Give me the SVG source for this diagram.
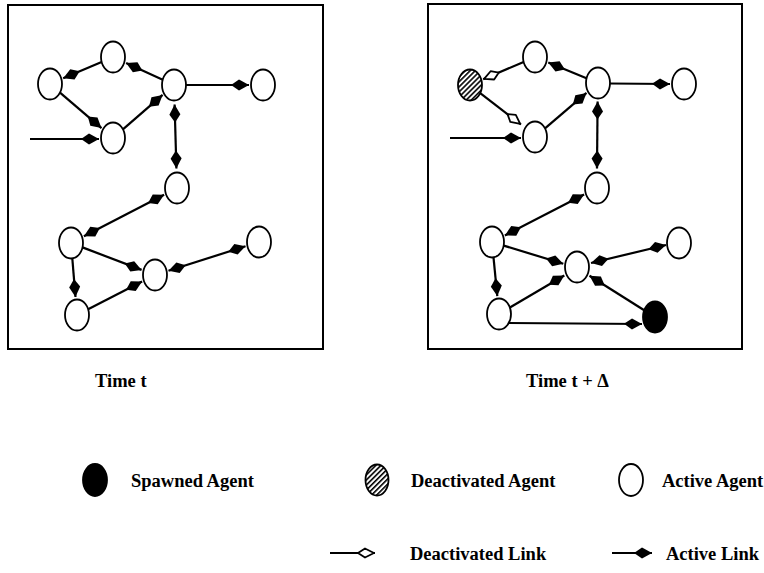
<svg xmlns="http://www.w3.org/2000/svg" width="764" height="573" viewBox="0 0 764 573">
<style>
.n{fill:#fff;stroke:#000;stroke-width:1.8}
.s{fill:#000;stroke:#000;stroke-width:1.8}
.h{fill:url(#hatch);stroke:#000;stroke-width:1.8}
.e{stroke:#000;stroke-width:2.2;fill:none}
.a{marker-end:url(#fh)}
.d{marker-start:url(#fh);marker-end:url(#fh)}
.o{marker-end:url(#oh)}
.box{fill:none;stroke:#000;stroke-width:2}
text{font-family:"Liberation Serif","Times New Roman",serif;font-weight:bold;font-size:18.5px;fill:#000}
</style>
<defs>
<marker id="fh" markerUnits="userSpaceOnUse" markerWidth="20" markerHeight="14" refX="18" refY="7" orient="auto-start-reverse" overflow="visible"><path d="M18,7 L8,1.5 L0,7 L8,12.5 Z" fill="#000"/></marker>
<marker id="oh" markerUnits="userSpaceOnUse" markerWidth="20" markerHeight="14" refX="18" refY="7" orient="auto-start-reverse" overflow="visible"><path d="M17,7 L8,2.5 L1,7 L8,11.5 Z" fill="#fff" stroke="#000" stroke-width="1.8" stroke-linejoin="round"/></marker>
<pattern id="hatch" width="3.6" height="3.6" patternUnits="userSpaceOnUse" patternTransform="rotate(45)"><rect width="3.6" height="3.6" fill="#fff"/><line x1="0.8" y1="0" x2="0.8" y2="3.6" stroke="#000" stroke-width="1.6"/></pattern>
</defs>
<rect id="frame-t" class="box" x="8" y="5" width="315" height="344"/>
<rect id="frame-t-delta" class="box" x="428" y="4" width="314" height="345"/>
<g id="connectors">
<path class="e a" d="M101.6,61.9 L63.2,78.3"/>
<path class="e a" d="M162.7,79.8 L126.1,63"/>
<path class="e a" d="M60,92.6 L101.5,128.1"/>
<path class="e a" d="M122.9,129.4 L162.6,94.9"/>
<path class="e a" d="M186,85 L249,85"/>
<path class="e a" d="M30,139 L99,139"/>
<path class="e d" d="M174.6,104.5 L176.4,168.5"/>
<path class="e d" d="M164.1,194.7 L83.9,236.3"/>
<path class="e a" d="M82.5,247.4 L141.6,269.9"/>
<path class="e a" d="M72.3,258.4 L75.5,297"/>
<path class="e a" d="M88.1,309.3 L142.1,281.6"/>
<path class="e d" d="M168.5,270.7 L245.5,246.3"/>
<path class="e o" d="M523.6,61.9 L483.2,79.3"/>
<path class="e o" d="M480.2,93.2 L521,124.5"/>
<path class="e a" d="M586.5,78.3 L548.3,62.5"/>
<path class="e a" d="M545,128.4 L586.5,92.9"/>
<path class="e a" d="M610,83.5 L670,84"/>
<path class="e a" d="M450,138 L521,138"/>
<path class="e d" d="M597.6,101.5 L597,168.5"/>
<path class="e d" d="M584.1,194.6 L504.9,235.4"/>
<path class="e a" d="M503.7,245.6 L563.3,263.8"/>
<path class="e a" d="M493.5,257.4 L497.3,296.1"/>
<path class="e a" d="M509.9,307.5 L564.3,275.5"/>
<path class="e d" d="M591,263 L666,245"/>
<path class="e a" d="M644.2,310.2 L589.5,275.8"/>
<path class="e a" d="M509,323 L642,324"/>
</g>
<g id="t-a"><ellipse class="n" cx="50" cy="84" rx="12" ry="15.5"/></g>
<g id="t-b"><ellipse class="n" cx="113" cy="57" rx="12" ry="15.5"/></g>
<g id="t-c"><ellipse class="n" cx="174" cy="85" rx="12" ry="15.5"/></g>
<g id="t-d"><ellipse class="n" cx="263" cy="85" rx="12" ry="15.5"/></g>
<g id="t-e"><ellipse class="n" cx="113" cy="138" rx="12" ry="15.5"/></g>
<g id="t-f"><ellipse class="n" cx="177" cy="188" rx="12" ry="15.5"/></g>
<g id="t-g"><ellipse class="n" cx="71" cy="243" rx="12" ry="15.5"/></g>
<g id="t-h"><ellipse class="n" cx="155" cy="275" rx="12" ry="15.5"/></g>
<g id="t-i"><ellipse class="n" cx="259" cy="242" rx="12" ry="15.5"/></g>
<g id="t-j"><ellipse class="n" cx="77" cy="315" rx="12" ry="15.5"/></g>
<g id="td-a"><ellipse class="h" cx="470" cy="85" rx="12" ry="15.5"/></g>
<g id="td-b"><ellipse class="n" cx="535" cy="57" rx="12" ry="15.5"/></g>
<g id="td-c"><ellipse class="n" cx="598" cy="83" rx="12" ry="15.5"/></g>
<g id="td-d"><ellipse class="n" cx="684" cy="84" rx="12" ry="15.5"/></g>
<g id="td-e"><ellipse class="n" cx="535" cy="137" rx="12" ry="15.5"/></g>
<g id="td-f"><ellipse class="n" cx="597" cy="188" rx="12" ry="15.5"/></g>
<g id="td-g"><ellipse class="n" cx="492" cy="242" rx="12" ry="15.5"/></g>
<g id="td-h"><ellipse class="n" cx="577" cy="267" rx="12" ry="15.5"/></g>
<g id="td-i"><ellipse class="n" cx="679" cy="243" rx="12" ry="15.5"/></g>
<g id="td-j"><ellipse class="n" cx="499" cy="314" rx="12" ry="15.5"/></g>
<g id="td-k"><ellipse class="s" cx="655" cy="317" rx="12" ry="15.5"/></g>
<text x="95" y="387">Time t</text>
<text x="526" y="387">Time t + Δ</text>
<g id="legend">
<g id="legend-spawned"><ellipse class="s" cx="95" cy="480" rx="12" ry="16"/><text x="131" y="487">Spawned Agent</text></g>
<g id="legend-deactivated"><ellipse class="h" cx="377" cy="480" rx="11.5" ry="15.5"/><text x="411" y="487">Deactivated Agent</text></g>
<g id="legend-active"><ellipse class="n" cx="631" cy="480" rx="12" ry="16"/><text x="662" y="487">Active Agent</text></g>
<g id="legend-deactivated-link"><path class="e o" d="M330,553 L375,553"/><text x="410" y="560">Deactivated Link</text></g>
<g id="legend-active-link"><path class="e a" d="M612,553 L652,553"/><text x="666" y="560">Active Link</text></g>
</g>
</svg>
